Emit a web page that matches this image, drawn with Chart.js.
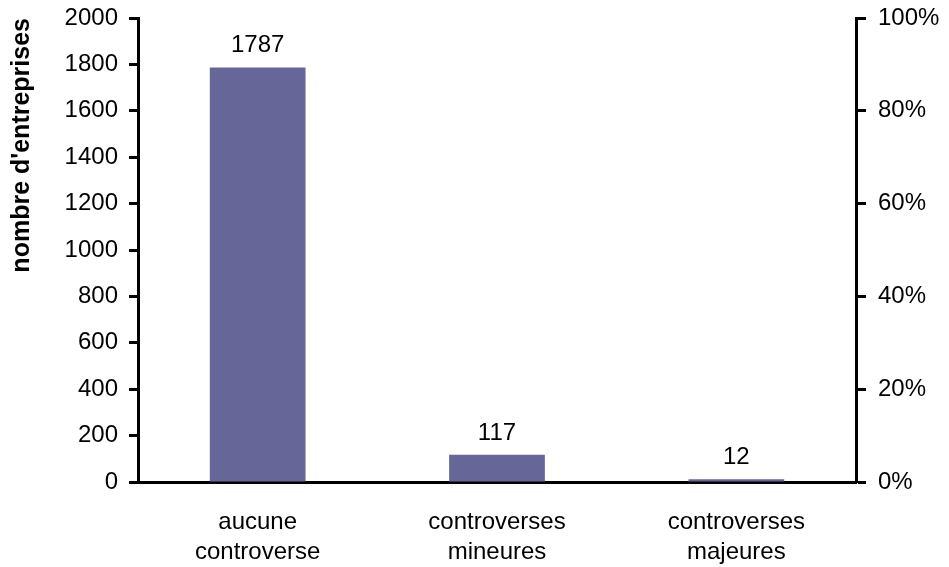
<!DOCTYPE html>
<html>
<head>
<meta charset="utf-8">
<script src="https://cdn.jsdelivr.net/npm/chart.js@4"></script>
<style>
html,body{margin:0;padding:0;background:#fff;}
#wrap{width:949px;height:567px;}
</style>
</head>
<body>
<div id="wrap"><canvas id="c" width="949" height="567"></canvas></div>
<script>
const categories = [["aucune","controverse"],["controverses","mineures"],["controverses","majeures"]];
const counts = [1787, 117, 12];
const leftTicks = [0,200,400,600,800,1000,1200,1400,1600,1800,2000];
const rightTicks = [0,20,40,60,80,100];

const FONT = "'Liberation Sans', Arial, sans-serif";
Chart.defaults.color = '#000';
Chart.defaults.font.family = FONT;

const labelPlugin = {
  id: 'valueLabels',
  afterDatasetsDraw(chart) {
    const ctx = chart.ctx;
    const meta = chart.getDatasetMeta(0);
    ctx.save();
    ctx.font = "24px " + FONT;
    ctx.fillStyle = '#000';
    ctx.textAlign = 'center';
    ctx.textBaseline = 'alphabetic';
    meta.data.forEach((bar, i) => {
      ctx.fillText(String(chart.data.datasets[0].data[i]), bar.x, bar.y - 15);
    });
    ctx.restore();
  }
};

new Chart(document.getElementById('c'), {
  type: 'bar',
  data: {
    labels: categories,
    datasets: [{
      data: counts,
      backgroundColor: '#666699',
      borderWidth: 0,
      barPercentage: 0.4,
      categoryPercentage: 1.0,
      yAxisID: 'y'
    }]
  },
  options: {
    responsive: false,
    animation: false,
    devicePixelRatio: 1,
    layout: { padding: { top: 18, left: 0, right: 0, bottom: 0 } },
    plugins: { legend: { display: false }, tooltip: { enabled: false } },
    scales: {
      x: {
        grid: { display: true, drawOnChartArea: false, drawTicks: false },
        border: { display: true, color: '#000', width: 3 },
        ticks: { font: { size: 24, lineHeight: 1.25 }, padding: 25, color: '#000', maxRotation: 0 },
        afterFit(s) { s.height = 85; s.paddingLeft = 0; s.paddingRight = 0; }
      },
      y: {
        position: 'left',
        min: 0, max: 2000,
        afterBuildTicks(s) { s.ticks = leftTicks.map(v => ({ value: v })); },
        grid: { drawOnChartArea: false, drawTicks: true, tickLength: 9, tickWidth: 3, tickColor: '#000' },
        border: { display: true, color: '#000', width: 3 },
        ticks: { font: { size: 24 }, padding: 11, color: '#000', callback: v => String(v) },
        title: {
          display: true, text: "nombre d'entreprises", align: 'end',
          font: { size: 25, weight: 'bold' }, color: '#000',
          padding: { top: 7, bottom: 0 }
        },
        afterFit(s) { s.width = 138; s.paddingTop = 0; s.paddingBottom = 0; }
      },
      y1: {
        position: 'right',
        min: 0, max: 100,
        afterBuildTicks(s) { s.ticks = rightTicks.map(v => ({ value: v })); },
        grid: { drawOnChartArea: false, drawTicks: true, tickLength: 10, tickWidth: 3, tickColor: '#000' },
        border: { display: true, color: '#000', width: 3 },
        ticks: { font: { size: 24 }, padding: 12, color: '#000', callback: v => v + '%' },
        afterFit(s) { s.width = 93; s.paddingTop = 0; s.paddingBottom = 0; }
      }
    }
  },
  plugins: [labelPlugin]
});
</script>
</body>
</html>
